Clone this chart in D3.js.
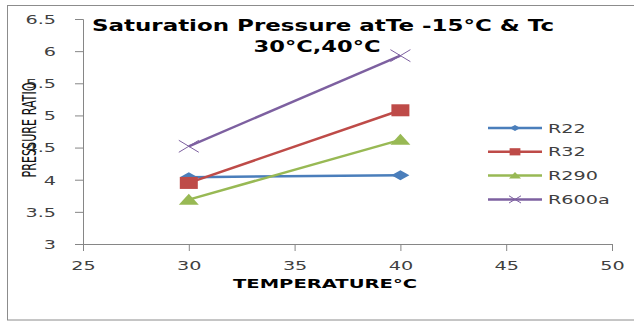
<!DOCTYPE html>
<html>
<head>
<meta charset="utf-8">
<script src="https://d3js.org/d3.v7.min.js"></script>
<style>
  body { margin: 0; background: #fff; }
  svg { display: block; }
  .tick text { font-family: "DejaVu Sans", Verdana, sans-serif; font-size: 12px; fill: #404040; }
</style>
</head>
<body>
<script>
// chart values
var temps = [30, 40];
var seriesNames = ["R22", "R32", "R290", "R600a"];
var r22 = [4.04, 4.07];
var r32 = [3.95, 5.08];
var r290 = [3.69, 4.62];
var r600a = [4.52, 5.93];
var xTicks = [25, 30, 35, 40, 45, 50];
var yTicks = [3, 3.5, 4, 4.5, 5, 5.5, 6, 6.5];

var colors = ["#4a7ebb", "#be4b48", "#98b954", "#7d60a0"];
var markers = ["diamond", "square", "triangle", "cross"];
var allSeries = [r22, r32, r290, r600a];
var stretch = 1.6; // the original text is drawn wide

var width = 634, height = 322;
var svg = d3.select("body").append("svg")
    .attr("width", width)
    .attr("height", height);

// outer chart border
svg.append("rect")
    .attr("x", 7.5).attr("y", 5.5)
    .attr("width", 640).attr("height", 314.5)
    .attr("fill", "none").attr("stroke", "#8c8c8c").attr("stroke-width", 1);

var x = d3.scaleLinear().domain([25, 50]).range([83, 612]);
var y = d3.scaleLinear().domain([3, 6.5]).range([244, 19]);

// axes
var xAxis = svg.append("g")
    .attr("transform", "translate(0,244)")
    .call(d3.axisBottom(x).tickValues(xTicks).tickSize(7).tickFormat(d3.format("d")));
var yAxis = svg.append("g")
    .attr("transform", "translate(83,0)")
    .call(d3.axisLeft(y).tickValues(yTicks).tickSize(8).tickFormat(function(d) { return d % 1 === 0 ? d : d.toFixed(1); }));
svg.selectAll(".domain, .tick line").attr("stroke", "#868686");
xAxis.selectAll(".tick text")
    .attr("y", 0).attr("dy", null)
    .attr("transform", "translate(0,25.5) scale(" + stretch + ",1)");
yAxis.selectAll(".tick text")
    .attr("x", 0).attr("dy", "0.36em")
    .attr("transform", "translate(-27,0) scale(" + stretch + ",1)");

// marker shapes, stretched wide like the original
function drawMarker(g, type, cx, cy, color, s) {
  if (type === "diamond") {
    g.append("path")
      .attr("d", "M" + (cx - 9 * s) + "," + cy + "L" + cx + "," + (cy - 5 * s) + "L" + (cx + 9 * s) + "," + cy + "L" + cx + "," + (cy + 5 * s) + "Z")
      .attr("fill", color);
  } else if (type === "square") {
    g.append("rect")
      .attr("x", cx - 9 * s).attr("y", cy - 6 * s)
      .attr("width", 18 * s).attr("height", 12 * s)
      .attr("fill", color);
  } else if (type === "triangle") {
    g.append("path")
      .attr("d", "M" + (cx - 10 * s) + "," + (cy + 5 * s) + "L" + cx + "," + (cy - 6 * s) + "L" + (cx + 10 * s) + "," + (cy + 5 * s) + "Z")
      .attr("fill", color);
  } else {
    g.append("path")
      .attr("d", "M" + (cx - 10 * s) + "," + (cy - 6 * s) + "L" + (cx + 10 * s) + "," + (cy + 6 * s) +
                 "M" + (cx - 10 * s) + "," + (cy + 6 * s) + "L" + (cx + 10 * s) + "," + (cy - 6 * s))
      .attr("stroke", color).attr("stroke-width", 1).attr("fill", "none");
  }
}

var line = d3.line()
    .x(function(d, i) { return x(temps[i]); })
    .y(function(d) { return y(d); });

allSeries.forEach(function(vals, k) {
  var g = svg.append("g");
  g.append("path")
    .datum(vals)
    .attr("d", line)
    .attr("fill", "none")
    .attr("stroke", colors[k])
    .attr("stroke-width", 2.5);
  vals.forEach(function(v, i) {
    drawMarker(g, markers[k], x(temps[i]), y(v), colors[k], 1);
  });
});

// legend
var legend = svg.append("g");
seriesNames.forEach(function(name, k) {
  var ly = 128 + k * 23.8;
  legend.append("line")
    .attr("x1", 488).attr("x2", 542)
    .attr("y1", ly).attr("y2", ly)
    .attr("stroke", colors[k]).attr("stroke-width", 2.5);
  drawMarker(legend, markers[k], 515, ly, colors[k], 0.6);
  legend.append("text")
    .attr("transform", "translate(548," + (ly + 4.5) + ") scale(" + stretch + ",1)")
    .attr("font-family", "DejaVu Sans, Verdana, sans-serif")
    .attr("font-size", 12)
    .attr("fill", "#404040")
    .text(name);
});

// title
svg.append("text")
    .attr("x", 323).attr("y", 31)
    .attr("text-anchor", "middle")
    .attr("font-family", "DejaVu Sans, sans-serif")
    .attr("font-weight", "bold")
    .attr("font-size", 16)
    .attr("textLength", 462)
    .attr("lengthAdjust", "spacingAndGlyphs")
    .text("Saturation Pressure atTe -15°C & Tc");
svg.append("text")
    .attr("x", 317).attr("y", 52)
    .attr("text-anchor", "middle")
    .attr("font-family", "DejaVu Sans, sans-serif")
    .attr("font-weight", "bold")
    .attr("font-size", 16)
    .attr("textLength", 127)
    .attr("lengthAdjust", "spacingAndGlyphs")
    .text("30°C,40°C");

// axis titles
svg.append("text")
    .attr("x", 325).attr("y", 288)
    .attr("text-anchor", "middle")
    .attr("font-family", "DejaVu Sans, sans-serif")
    .attr("font-weight", "bold")
    .attr("font-size", 12)
    .attr("textLength", 184)
    .attr("lengthAdjust", "spacingAndGlyphs")
    .text("TEMPERATURE°C");
svg.append("text")
    .attr("transform", "translate(36,130) rotate(-90)")
    .attr("text-anchor", "middle")
    .attr("font-family", "DejaVu Sans Condensed, DejaVu Sans, sans-serif")
    .attr("font-stretch", "condensed")
    .attr("font-size", 20)
    .attr("fill", "#111")
    .attr("textLength", 95)
    .attr("lengthAdjust", "spacingAndGlyphs")
    .text("PRESSURE RATIO");
</script>
</body>
</html>
